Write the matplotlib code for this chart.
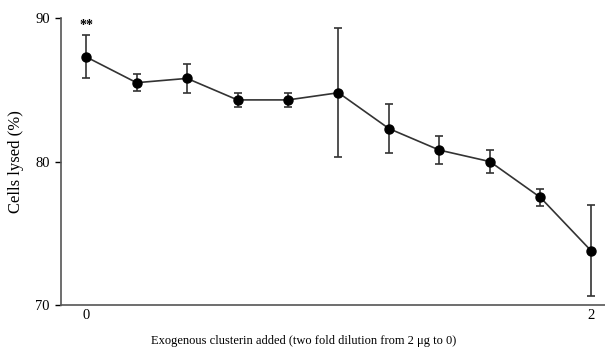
import numpy as np
import matplotlib.pyplot as plt

plt.rcParams['font.family'] = ['Liberation Serif', 'DejaVu Serif']

# eleven two-fold dilution steps, left = 0, right = 2 ug
step = np.arange(11)
lysed = [87.3, 85.5, 85.8, 84.3, 84.3, 84.8, 82.3, 80.8, 80.0, 77.5, 73.8]
err = [1.5, 0.6, 1.0, 0.5, 0.5, 4.5, 1.7, 1.0, 0.8, 0.6, 3.2]
xtick_pos = [0, 10]
xtick_lab = ['0', '2']
yticks = [70, 80, 90]

fig = plt.figure(figsize=(6.05, 3.49), dpi=100)
ax = fig.add_axes([0.101, 0.126, 0.899, 0.822])

ax.errorbar(step, lysed, yerr=err, fmt='-o', color='#333333', mfc='black',
            mec='black', ms=6.5, lw=1.2, elinewidth=1.2, capsize=3,
            capthick=1.2, ecolor='#333333')

ax.text(step[0], lysed[0] + err[0] + 0.2, '**', ha='center', va='bottom',
        fontsize=10, fontweight='bold')

ax.set_xlim(-0.495, 10.28)
ax.set_ylim(70, 90)
ax.set_xticks(xtick_pos)
ax.set_xticklabels(xtick_lab, fontsize=10.5)
ax.tick_params(axis='x', length=0, pad=3)
ax.set_yticks(yticks)
ax.set_yticklabels([str(v) for v in yticks], fontsize=10.5)
ax.tick_params(axis='y', length=4, width=1, direction='out', pad=4)

for s in ['top', 'right']:
    ax.spines[s].set_visible(False)
for s in ['left', 'bottom']:
    ax.spines[s].set_color('#555555')
    ax.spines[s].set_linewidth(1.2)

ax.set_ylabel('Cells lysed (%)', fontsize=12, labelpad=8)
ax.set_xlabel('Exogenous clusterin added (two fold dilution from 2 \u03bcg to 0)',
              fontsize=9)
ax.xaxis.set_label_coords(0.445, -0.105)

fig.savefig('out.png', dpi=100)
